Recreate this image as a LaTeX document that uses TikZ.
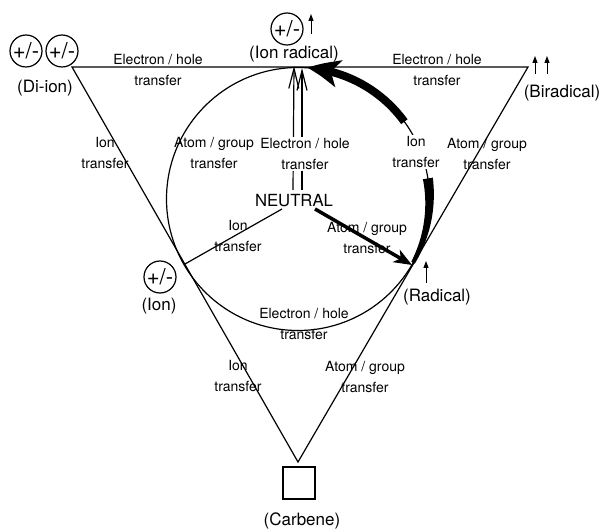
\documentclass[tikz,border=0pt]{standalone}
\usepackage{fontspec}
\setmainfont{TeX Gyre Heros}
\usetikzlibrary{arrows.meta,bending}
\begin{document}
\begin{tikzpicture}[x=1pt,y=-1pt,
  lbl/.style={font=\fontsize{14}{21.5}\selectfont, align=center, inner sep=0pt},
  nm/.style={font=\fontsize{17}{20}\selectfont, inner sep=0pt},
  pm/.style={draw, circle, line width=1.2pt, minimum size=32pt, inner sep=0pt, font=\fontsize{22}{22}\selectfont},
  edge/.style={line width=1.2pt},
  spin/.style={line width=1pt, -{Triangle[length=7pt,width=5pt]}},
  dbl/.style={line width=1.2pt, -{Straight Barb[length=20pt,width=10pt]}},
  thickarc/.style={line width=8pt}
]
\useasboundingbox (0,0) rectangle (603,529);
% geometry
\coordinate (A) at (72,67);
\coordinate (B) at (528,67);
\coordinate (C) at (298,462);
\coordinate (O) at (298,199);
\coordinate (T) at (298,67);
\coordinate (L) at (185,264);
\coordinate (R) at (412,265);
% labels
\node[lbl] (l1) at (158,70) {Electron / hole\\transfer};
\node[lbl] (l2) at (437,70) {Electron / hole\\transfer};
\node[lbl] (l3) at (105,153) {Ion\\transfer};
\node[lbl] (l4) at (214,153) {Atom / group\\transfer};
\node[lbl] (l7) at (487,154) {Atom / group\\transfer};
\node[lbl] (l8) at (238,236) {Ion\\transfer};
\node[lbl] (l9) at (367,238) {Atom / group\\transfer};
\node[lbl] (l10) at (304,324) {Electron / hole\\transfer};
\node[lbl] (l11) at (238,376) {Ion\\transfer};
\node[lbl] (l12) at (365,377) {Atom / group\\transfer};
% triangle and circle
\draw[edge] (A) -- (B) -- (C) -- cycle;
\draw[edge] (O) circle[radius=131.5pt];
% neutral
\node[font=\fontsize{16.7}{20}\selectfont, inner sep=0pt] (neu) at (294,201) {NEUTRAL};
\coordinate (nL) at (282,209);
\coordinate (nR) at (315,209);
\coordinate (v1s) at (293,190);
\coordinate (v2s) at (302,190);
\coordinate (v1e) at (294,66);
\coordinate (v2e) at (302,68);
\draw[edge] (nL) -- (L);
\draw[line width=3.5pt, -{Stealth[length=18pt,width=14pt,inset=5pt]}] (nR) -- (R);
\draw[dbl] (v1s) -- (v1e);
\draw[dbl] (v2s) -- (v2e);
% thick curved arrow (lower part tapers towards the radical)
\fill plot[domain=-29:9, samples=40, variable=\t]
  ({298+(131.5+(2+3*(\t+29)/38))*cos(\t)}, {199-(131.5+(2+3*(\t+29)/38))*sin(\t)})
  -- plot[domain=9:-29, samples=40, variable=\t]
  ({298+(131.5-(2+3*(\t+29)/38))*cos(\t)}, {199-(131.5-(2+3*(\t+29)/38))*sin(\t)})
  -- cycle;
\draw[thickarc, -{Stealth[length=32pt,width=27pt,inset=8pt,bend]}] (O) ++(36:131.5pt) arc[start angle=36,end angle=86,radius=131.5pt];
% labels with white background
\node[lbl, fill=white, inner sep=1pt] (l5) at (305,154) {Electron / hole\\transfer};
\node[lbl, fill=white, inner sep=1pt] (l6) at (416,152) {Ion\\transfer};
% species
\node[pm] (di1) at (26,51) {+/-};
\node[pm] (di2) at (62,51) {+/-};
\node[nm] (dit) at (45,88) {(Di-ion)};
\node[pm] (ir) at (287,29) {+/-};
\coordinate (ira) at (311,34);
\coordinate (irb) at (311,14);
\draw[spin] (ira) -- (irb);
\node[nm] (irt) at (294,54) {(Ion radical)};
\coordinate (b1a) at (535,74);
\coordinate (b1b) at (535,56);
\coordinate (b2a) at (547,74);
\coordinate (b2b) at (547,56);
\draw[spin] (b1a) -- (b1b);
\draw[spin] (b2a) -- (b2b);
\node[nm] (bit) at (562,93) {(Biradical)};
\coordinate (ra) at (426,283);
\coordinate (rb) at (426,261);
\draw[spin] (ra) -- (rb);
\node[nm] (rt) at (437,297) {(Radical)};
\node[pm] (io) at (160,277) {+/-};
\node[nm] (iot) at (159,306) {(Ion)};
\node[draw, line width=1.2pt, minimum size=32pt, inner sep=0pt] (cb) at (299,483) {};
\node[nm] (cbt) at (302,521) {(Carbene)};
\end{tikzpicture}
\end{document}
